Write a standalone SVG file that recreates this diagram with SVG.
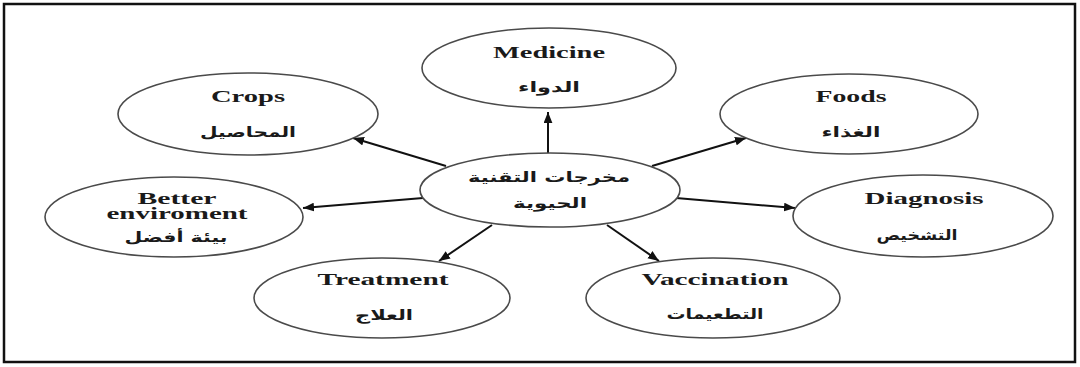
<svg xmlns="http://www.w3.org/2000/svg" width="1080" height="367" viewBox="0 0 1080 367">
  <style>
    .node ellipse { fill: #ffffff; stroke: #4a4a4a; stroke-width: 1.6; }
    .en { font-family: "Liberation Serif", "Times New Roman", serif; font-weight: bold; font-size: 16px; fill: #1a1a1a; text-anchor: middle; }
    .ar { font-family: "DejaVu Sans", "Noto Sans", sans-serif; font-weight: bold; font-size: 14px; fill: #1a1a1a; text-anchor: middle; }
    .link { stroke: #111111; stroke-width: 2; fill: none; marker-end: url(#head); }
  </style>
  <defs>
    <marker id="head" viewBox="0 0 10 8" refX="10" refY="4" markerWidth="5.5" markerHeight="4.5" orient="auto" markerUnits="strokeWidth">
      <path d="M0,0 L10,4 L0,8 Z" fill="#111111"/>
    </marker>
  </defs>

  <rect width="1080" height="367" fill="#ffffff"/>
  <!-- outer frame -->
  <rect x="4" y="4" width="1071" height="358" fill="none" stroke="#111111" stroke-width="2.5"/>

  <!-- connectors from the central node -->
  <g id="connectors">
    <line class="link" x1="548" y1="153" x2="548" y2="112"/>
    <line class="link" x1="446" y1="166" x2="353" y2="138"/>
    <line class="link" x1="652" y1="166" x2="746" y2="138"/>
    <line class="link" x1="423" y1="198" x2="303" y2="208"/>
    <line class="link" x1="676" y1="198" x2="795" y2="208"/>
    <line class="link" x1="492" y1="225" x2="439" y2="261"/>
    <line class="link" x1="607" y1="225" x2="659" y2="261"/>
  </g>

  <g id="center" class="node">
    <ellipse cx="550" cy="190" rx="130" ry="37"/>
    <text class="ar" x="549" y="182" textLength="162" lengthAdjust="spacingAndGlyphs">مخرجات التقنية</text>
    <text class="ar" x="550" y="208" textLength="74" lengthAdjust="spacingAndGlyphs">الحيوية</text>
  </g>

  <g id="medicine" class="node">
    <ellipse cx="549" cy="68" rx="127" ry="40"/>
    <text class="en" x="549" y="58" textLength="112" lengthAdjust="spacingAndGlyphs">Medicine</text>
    <text class="ar" x="549" y="92" textLength="62" lengthAdjust="spacingAndGlyphs">الدواء</text>
  </g>

  <g id="crops" class="node">
    <ellipse cx="248" cy="114" rx="130" ry="41"/>
    <text class="en" x="248" y="102" textLength="74" lengthAdjust="spacingAndGlyphs">Crops</text>
    <text class="ar" x="248" y="137" textLength="96" lengthAdjust="spacingAndGlyphs">المحاصيل</text>
  </g>

  <g id="foods" class="node">
    <ellipse cx="849" cy="114" rx="129" ry="40"/>
    <text class="en" x="851" y="102" textLength="71" lengthAdjust="spacingAndGlyphs">Foods</text>
    <text class="ar" x="851" y="137" textLength="59" lengthAdjust="spacingAndGlyphs">الغذاء</text>
  </g>

  <g id="better-environment" class="node">
    <ellipse cx="174" cy="217" rx="129" ry="40"/>
    <text class="en" x="177" y="204" textLength="79" lengthAdjust="spacingAndGlyphs">Better</text>
    <text class="en" x="177" y="219" textLength="141" lengthAdjust="spacingAndGlyphs">enviroment</text>
    <text class="ar" x="176" y="242" textLength="103" lengthAdjust="spacingAndGlyphs">بيئة أفضل</text>
  </g>

  <g id="diagnosis" class="node">
    <ellipse cx="923" cy="216" rx="130" ry="41"/>
    <text class="en" x="924" y="204" textLength="119" lengthAdjust="spacingAndGlyphs">Diagnosis</text>
    <text class="ar" x="917" y="240" textLength="81" lengthAdjust="spacingAndGlyphs">التشخيص</text>
  </g>

  <g id="treatment" class="node">
    <ellipse cx="382" cy="298" rx="128" ry="40"/>
    <text class="en" x="383" y="285" textLength="131" lengthAdjust="spacingAndGlyphs">Treatment</text>
    <text class="ar" x="384" y="320" textLength="58" lengthAdjust="spacingAndGlyphs">العلاج</text>
  </g>

  <g id="vaccination" class="node">
    <ellipse cx="713" cy="298" rx="127" ry="40"/>
    <text class="en" x="715" y="285" textLength="147" lengthAdjust="spacingAndGlyphs">Vaccination</text>
    <text class="ar" x="715" y="319" textLength="97" lengthAdjust="spacingAndGlyphs">التطعيمات</text>
  </g>
</svg>
